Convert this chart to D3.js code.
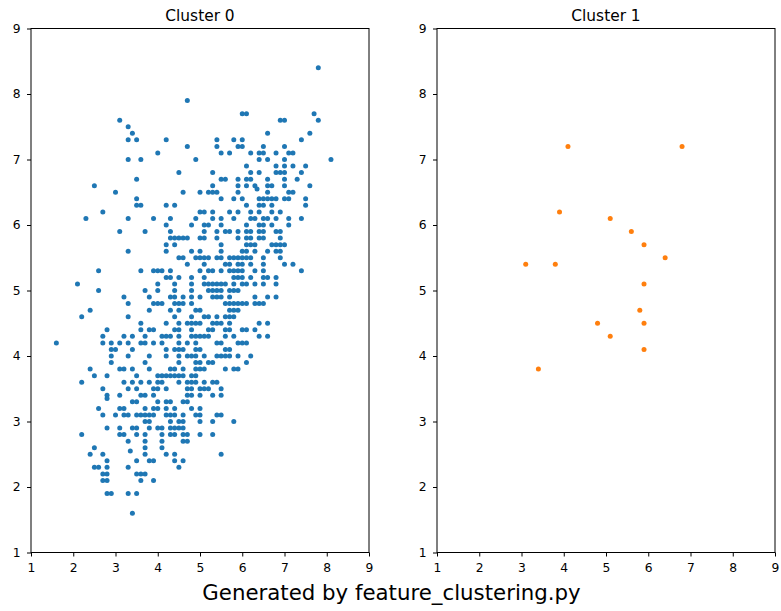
<!DOCTYPE html>
<html>
<head>
<meta charset="utf-8">
<script src="https://cdn.jsdelivr.net/npm/d3@7"></script>
<style>
  html, body { margin: 0; padding: 0; background: #fff; }
  svg { display: block; font-family: "DejaVu Sans", sans-serif; }
</style>
</head>
<body>
<svg id="chart" width="781" height="611"></svg>
<script>
// Cluster 0 points, grouped by y value: [y, [x values...]]
const cluster0Rows = [
  [8.4, [7.8]],
  [7.9, [4.7]],
  [7.7, [6.0, 6.1, 7.7]],
  [7.6, [3.1, 6.9, 7.0, 7.8]],
  [7.5, [3.3]],
  [7.4, [3.4, 6.6, 7.6]],
  [7.3, [3.3, 3.5, 4.2, 5.4, 5.8, 6.0, 7.4]],
  [7.2, [4.7, 5.4, 5.9, 6.0, 6.5, 7.0]],
  [7.1, [4.0, 5.5, 5.7, 6.2, 6.4, 6.5, 6.8, 7.1, 7.2]],
  [7.0, [3.3, 3.6, 4.9, 6.4, 6.6, 7.0, 8.1]],
  [6.9, [6.1, 6.8, 7.0, 7.2, 7.5]],
  [6.8, [4.5, 5.3, 6.2, 6.4, 6.8, 6.9, 7.0, 7.4]],
  [6.7, [3.5, 5.5, 5.6, 5.9, 6.1, 6.2, 6.6, 7.0, 7.3]],
  [6.6, [2.5, 5.3, 5.9, 6.1, 6.3, 6.6, 6.7, 7.0, 7.6]],
  [6.55, [6.35]],
  [6.5, [3.0, 4.6, 5.0, 5.2, 5.3, 5.4, 5.9, 6.6, 7.1, 7.2]],
  [6.4, [3.5, 5.5, 5.8, 6.0, 6.4, 6.5, 6.6, 6.7, 6.8, 7.0, 7.1, 7.5]],
  [6.3, [3.5, 3.6, 4.2, 4.4, 6.1, 6.4, 6.5, 6.7, 7.5]],
  [6.2, [2.7, 5.0, 5.1, 5.3, 5.7, 5.9, 6.2, 6.4, 6.7, 6.9]],
  [6.1, [2.3, 3.3, 3.9, 4.3, 4.9, 5.3, 5.5, 5.8, 6.2, 6.3, 6.5, 6.6, 6.8, 7.1, 7.4]],
  [6.0, [4.2, 4.8, 5.1, 5.2, 5.5, 6.1, 6.4, 6.5, 6.7, 7.1]],
  [5.9, [3.1, 3.7, 4.3, 5.1, 5.4, 5.6, 5.7, 5.9, 6.1, 6.2, 6.4, 6.5, 6.8, 6.9]],
  [5.8, [4.3, 4.4, 4.5, 4.6, 4.7, 5.0, 5.1, 5.4, 5.9, 6.1, 6.2, 6.4, 6.5, 6.9]],
  [5.7, [4.2, 4.4, 5.5, 6.1, 6.2, 6.3, 6.7, 6.8, 6.9, 7.0]],
  [5.6, [3.3, 4.2, 4.8, 5.0, 5.5, 6.0, 6.1, 6.3, 6.6, 6.8, 6.9]],
  [5.5, [4.5, 4.6, 4.9, 5.0, 5.1, 5.2, 5.4, 5.5, 5.7, 5.8, 5.9, 6.0, 6.1, 6.2, 6.5, 6.9]],
  [5.4, [4.7, 5.1, 5.6, 5.7, 5.9, 6.0, 6.2, 6.5, 7.0, 7.2]],
  [5.3, [2.6, 3.6, 3.9, 4.0, 4.1, 4.3, 5.0, 5.2, 5.3, 5.5, 5.7, 5.8, 5.9, 6.0, 6.3, 6.5, 7.4]],
  [5.2, [4.2, 4.3, 4.5, 4.8, 5.1, 5.8, 5.9, 6.0, 6.2, 6.5, 6.6, 6.8]],
  [5.1, [2.1, 4.0, 4.4, 4.8, 5.1, 5.2, 5.3, 5.4, 5.5, 5.6, 5.8, 6.0, 6.1, 6.3, 6.5, 6.8]],
  [5.0, [2.6, 3.7, 4.0, 4.4, 4.8, 5.2, 5.3, 5.4, 5.5, 5.7, 5.8, 5.9]],
  [4.9, [3.2, 3.8, 4.3, 4.4, 4.6, 4.8, 5.0, 5.3, 5.4, 5.5, 5.7, 6.3, 6.6, 6.8]],
  [4.8, [3.3, 3.9, 4.0, 4.1, 4.4, 4.5, 4.6, 4.8, 5.6, 5.7, 5.8, 5.9, 6.0, 6.1, 6.3, 6.4, 6.5]],
  [4.7, [2.4, 3.8, 4.3, 4.5, 4.9, 5.0, 5.7, 5.8, 5.9]],
  [4.6, [2.2, 3.3, 4.4, 4.8, 5.1, 5.2, 5.4, 5.6, 5.7, 5.8]],
  [4.5, [3.6, 4.2, 4.5, 4.7, 4.8, 4.9, 5.0, 5.3, 5.4, 5.5, 5.7, 6.4, 6.6]],
  [4.4, [2.8, 3.6, 3.8, 3.9, 4.4, 4.5, 4.8, 5.2, 5.3, 5.6, 5.7, 6.0, 6.1, 6.3]],
  [4.3, [2.7, 3.2, 3.4, 3.7, 4.1, 4.2, 4.3, 4.5, 4.8, 4.9, 5.0, 5.1, 5.2, 5.6, 5.8, 6.4, 6.6]],
  [4.2, [1.6, 2.7, 2.9, 3.1, 3.3, 3.6, 3.7, 3.9, 4.1, 4.5, 4.7, 4.9, 5.4, 5.5, 5.9, 6.0, 6.1]],
  [4.1, [2.9, 3.0, 3.4, 4.2, 4.4, 4.5, 4.6, 4.9, 5.0, 5.6, 5.7]],
  [4.0, [2.9, 3.3, 3.8, 4.2, 4.5, 4.7, 4.8, 4.9, 5.1, 5.4, 5.5, 5.6, 5.7, 5.9, 6.2]],
  [3.9, [2.9, 3.7, 4.5, 4.9, 5.0, 5.2, 5.3, 6.1]],
  [3.8, [2.4, 3.1, 3.2, 3.4, 3.8, 4.3, 4.4, 4.6, 4.9, 5.0, 5.1, 5.6, 5.8, 5.9]],
  [3.7, [2.5, 2.8, 3.5, 4.0, 4.1, 4.2, 4.3, 4.4, 4.5, 4.6, 4.8, 4.9]],
  [3.6, [2.2, 3.2, 3.4, 3.6, 3.8, 4.0, 4.1, 4.5, 4.7, 4.8, 4.9, 5.1, 5.3, 5.4]],
  [3.5, [2.7, 3.3, 3.5, 3.9, 4.0, 4.2, 4.7, 4.8, 5.0, 5.1, 5.2, 5.5]],
  [3.4, [2.8, 3.1, 3.6, 3.7, 3.9, 4.7, 4.8, 5.0, 5.3, 5.5]],
  [3.35, [2.8]],
  [3.3, [3.4, 3.5, 4.0, 4.2, 4.3, 4.6, 4.7]],
  [3.2, [2.6, 3.1, 3.2, 3.7, 3.9, 4.0, 4.2, 4.4, 4.8, 5.0]],
  [3.1, [2.7, 3.0, 3.2, 3.3, 3.5, 3.6, 3.7, 3.8, 3.9, 4.2, 4.3, 4.4, 4.6, 4.9, 5.0, 5.4, 5.5]],
  [3.0, [3.7, 3.8, 4.3, 4.5, 4.6, 5.0, 5.3, 5.8]],
  [2.9, [2.8, 3.1, 3.4, 3.5, 3.8, 4.0, 4.1, 4.3, 4.4, 4.5, 4.6]],
  [2.8, [2.2, 3.1, 3.2, 3.5, 3.7, 4.1, 4.3, 4.4, 4.6, 4.7, 5.0, 5.3]],
  [2.7, [3.3, 3.7, 4.1, 4.6, 4.7]],
  [2.6, [2.5, 3.7, 4.1]],
  [2.55, [3.35]],
  [2.5, [2.4, 2.7, 3.7, 4.2, 4.4, 5.5]],
  [2.4, [2.8, 3.5, 3.8, 3.9, 4.4, 4.6]],
  [2.3, [2.5, 2.6, 2.8, 3.3, 4.5]],
  [2.2, [2.7, 2.8, 3.5, 3.6, 3.7]],
  [2.1, [2.7, 2.8, 3.6, 3.9]],
  [1.9, [2.8, 2.9, 3.3, 3.5]],
  [1.6, [3.4]]
];

// Cluster 1 points
const cluster1X = [4.1, 6.8, 3.9, 5.1, 5.6, 5.9, 6.4, 3.1, 3.8, 5.9, 5.8, 4.8, 5.9, 5.1, 5.9, 3.4];
const cluster1Y = [7.2, 7.2, 6.2, 6.1, 5.9, 5.7, 5.5, 5.4, 5.4, 5.1, 4.7, 4.5, 4.5, 4.3, 4.1, 3.8];

const tickValues = [1, 2, 3, 4, 5, 6, 7, 8, 9];
const panelTitles = ["Cluster 0", "Cluster 1"];
const panelColors = ["#1f77b4", "#ff7f0e"];
const footerText = "Generated by feature_clustering.py";

const cluster0 = cluster0Rows.flatMap(([y, xs]) => xs.map(x => ({ x, y })));
const cluster1 = cluster1X.map((x, i) => ({ x, y: cluster1Y[i] }));
const panelData = [cluster0, cluster1];

const svg = d3.select("#chart");
const plotTop = 28.5, plotBottom = 552.5;
const panelLefts = [31, 437];
const panelWidth = 338;

panelData.forEach((pts, i) => {
  const left = panelLefts[i];
  const x = d3.scaleLinear().domain([1, 9]).range([left, left + panelWidth]);
  const y = d3.scaleLinear().domain([1, 9]).range([plotBottom, plotTop]);
  const g = svg.append("g");

  g.append("g")
    .selectAll("circle")
    .data(pts)
    .join("circle")
    .attr("cx", d => x(d.x))
    .attr("cy", d => y(d.y))
    .attr("r", 2.5)
    .attr("fill", panelColors[i]);

  const xAxis = g.append("g")
    .attr("transform", `translate(0,${plotBottom})`)
    .call(d3.axisBottom(x).tickValues(tickValues).tickFormat(d3.format("d")).tickSize(4).tickPadding(6.5));
  const yAxis = g.append("g")
    .attr("transform", `translate(${left},0)`)
    .call(d3.axisLeft(y).tickValues(tickValues).tickFormat(d3.format("d")).tickSize(4).tickPadding(6.5));
  [xAxis, yAxis].forEach(a => {
    a.select(".domain").remove();
    a.selectAll("line").attr("stroke", "#000").attr("stroke-width", 1);
    a.selectAll("text").attr("fill", "#000").style("font-size", "12.3px")
      .style("font-family", "'DejaVu Sans', sans-serif");
  });

  g.append("rect")
    .attr("x", left).attr("y", plotTop)
    .attr("width", panelWidth).attr("height", plotBottom - plotTop)
    .attr("fill", "none").attr("stroke", "#000").attr("stroke-width", 1);

  g.append("text")
    .attr("x", left + panelWidth / 2)
    .attr("y", 21)
    .attr("text-anchor", "middle")
    .style("font-size", "15.4px")
    .text(panelTitles[i]);
});

svg.append("text")
  .attr("x", 391.5)
  .attr("y", 600)
  .attr("text-anchor", "middle")
  .style("font-size", "21.3px")
  .text(footerText);
</script>
</body>
</html>
